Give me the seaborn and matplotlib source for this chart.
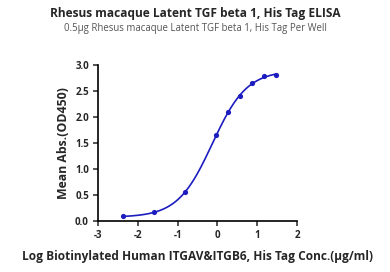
import numpy as np
import pandas as pd
import matplotlib
matplotlib.use("Agg")
import matplotlib.pyplot as plt
import seaborn as sns

# Data
log_conc = [-2.363, -1.585, -0.806, -0.028, 0.273, 0.574, 0.875, 1.176, 1.477]
od450 = [0.09, 0.16, 0.55, 1.66, 2.09, 2.40, 2.65, 2.79, 2.81]

title = "Rhesus macaque Latent TGF beta 1, His Tag ELISA"
subtitle = "0.5\u03bcg Rhesus macaque Latent TGF beta 1, His Tag Per Well"
xlabel = "Log Biotinylated Human ITGAV&ITGB6, His Tag Conc.(\u03bcg/ml)"
ylabel = "Mean Abs.(OD450)"
xticks = [-3, -2, -1, 0, 1, 2]
yticks = [0.0, 0.5, 1.0, 1.5, 2.0, 2.5, 3.0]

sns.set_style("ticks")
plt.rcParams['font.family'] = ['Open Sans', 'DejaVu Sans']

x = np.array(log_conc)
y = np.array(od450)

# 4-parameter logistic fit (grid search + linear least squares)
best = None
for lec in np.linspace(-1.5, 1.5, 301):
    for h in np.linspace(0.3, 3.0, 271):
        f = 1.0 / (1.0 + 10 ** ((lec - x) * h))
        A = np.column_stack([1 - f, f])
        coef, *_ = np.linalg.lstsq(A, y, rcond=None)
        r = np.sum((A @ coef - y) ** 2)
        if best is None or r < best[0]:
            best = (r, lec, h, coef)
_, lec, h, (bot, top) = best
xs = np.linspace(x.min(), x.max(), 300)
fs = 1.0 / (1.0 + 10 ** ((lec - xs) * h))
ys = bot * (1 - fs) + top * fs

color = "#1c1cc0"
fig = plt.figure(figsize=(3.9, 2.72), dpi=100)
ax = fig.add_axes([98 / 390, 1 - 220.7 / 272, (297 - 98) / 390, (220.7 - 65) / 272])

sns.lineplot(x=xs, y=ys, ax=ax, color=color, linewidth=1.2)
sns.scatterplot(x=x, y=y, ax=ax, color=color, s=14, edgecolor=color, linewidth=0, zorder=3)

ax.set_xlim(-3, 2)
ax.set_ylim(0, 3.0)
ax.set_xticks(xticks)
ax.set_xticklabels([str(t) for t in xticks])
ax.set_yticks(yticks)
ax.set_yticklabels([f"{t:.1f}" for t in yticks])
for s in ["top", "right"]:
    ax.spines[s].set_visible(False)
for s in ["left", "bottom"]:
    ax.spines[s].set_linewidth(1.2)
    ax.spines[s].set_color("black")
ax.tick_params(axis="both", direction="out", length=3.5, width=1.1, labelsize=7, pad=3)
for lab in ax.get_xticklabels() + ax.get_yticklabels():
    lab.set_fontweight("bold")
ax.set_clip_on(False)
for c in ax.collections + ax.lines:
    c.set_clip_on(False)

ax.set_xlabel(xlabel, fontsize=8.6, fontweight="bold", labelpad=7)
ax.set_ylabel(ylabel, fontsize=8.8, fontweight="bold", labelpad=4)

fig.text(0.5, 1 - 13 / 272, title, ha="center", va="center", fontsize=8.6, fontweight="bold")
fig.text(0.5, 1 - 28 / 272, subtitle, ha="center", va="center", fontsize=6.9, color="#555555")

fig.savefig("out.png", dpi=100)
